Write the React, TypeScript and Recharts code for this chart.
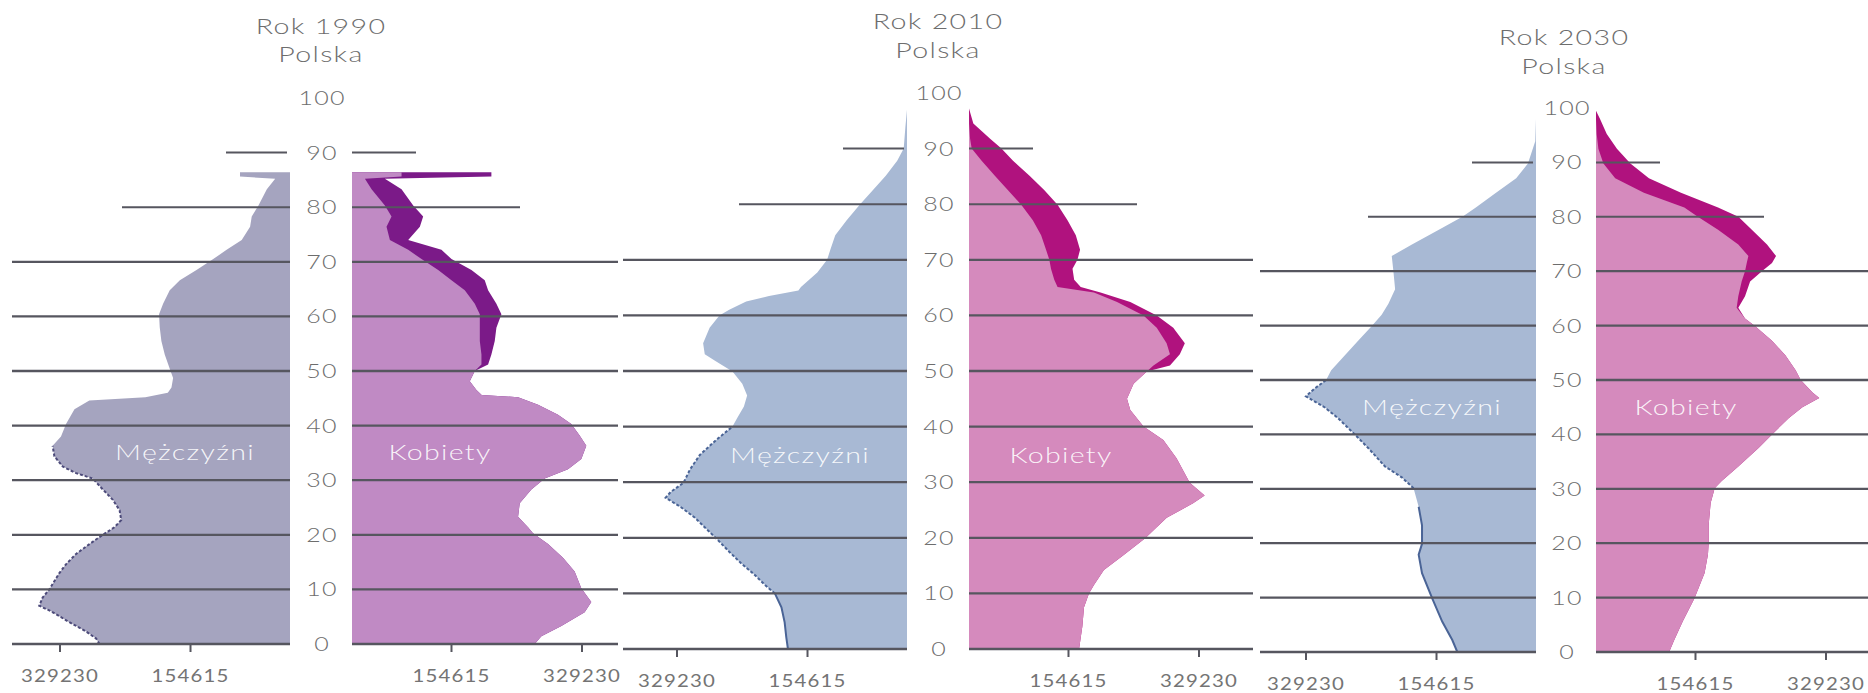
import { ComposedChart, Area, Line, XAxis, YAxis, ReferenceLine } from 'recharts';

const V0 = 21500; // value at the inner baseline of each half
const PER_PX = 1338; // axis units per pixel
const AGE_TICKS = [0, 10, 20, 30, 40, 50, 60, 70, 80, 90, 100];
const VALUE_TICKS = [154615, 329230];
const FULL_GRID = [0, 10, 20, 30, 40, 50, 60, 70];

// Rok 1990
const ages1990M = [0, 1, 2.3, 4, 6, 7, 8.5, 10, 11, 13, 14.6, 16.5, 18.3, 20, 21.4, 22.7, 24.5, 26.4, 28.3, 30.3, 31.3, 32.5, 34.4, 36.3, 38, 40.3, 43, 44.6, 45.2, 46, 47, 48.7, 50.4, 53, 55.5, 58, 60.4, 62.3, 64.8, 66.6, 68.5, 70.5, 72.2, 74, 76.4, 78.3, 80.3, 83.3, 85.2, 85.6, 86.4];
const male1990 = [276400, 280900, 294300, 316700, 341300, 357000, 352500, 343500, 339100, 330100, 321200, 307700, 289800, 271900, 256200, 247300, 249500, 258500, 271900, 285300, 307700, 325600, 336800, 339100, 327900, 321200, 309900, 290000, 215000, 185000, 180100, 177900, 182400, 189100, 193600, 195800, 196700, 191300, 182400, 168900, 146600, 124200, 106300, 86100, 74900, 72700, 63700, 52500, 41300, 88400, 88400];
const ages1990F = [0, 1.4, 3.3, 5.8, 7.7, 10.2, 13.3, 15.8, 18.3, 20.3, 21.4, 23.3, 25.8, 28.3, 30.3, 32, 33.9, 36.3, 38.2, 40.3, 42, 43.8, 45.2, 45.6, 46.5, 48.1, 50, 51.2, 53, 55.5, 57.9, 60.4, 62.3, 64.8, 66.6, 68.5, 70.5, 72.2, 74, 76.4, 78.3, 80.3, 83.3, 85.2, 85.6, 86.4];
const female1990 = [265900, 274900, 301600, 332800, 341700, 328300, 319400, 303800, 283800, 263700, 257000, 243700, 245900, 261500, 279300, 310500, 328300, 335000, 326100, 314900, 297100, 270400, 243700, 195000, 188000, 179100, 185800, 203600, 208000, 212500, 214700, 221400, 214700, 203600, 199100, 181300, 154600, 141200, 96700, 112300, 116700, 103400, 87800, 65500, 208000, 208000];
const femaleLight1990 = [265900, 274900, 301600, 332800, 341700, 328300, 319400, 303800, 283800, 263700, 257000, 243700, 245900, 261500, 279300, 310500, 328300, 335000, 326100, 314900, 297100, 270400, 243700, 195000, 188000, 179100, 185800, 194700, 194700, 192500, 192500, 192500, 185800, 172400, 154600, 136800, 114500, 96700, 72200, 67700, 74400, 65500, 47700, 38800, 87800, 87800];

// Rok 2010
const ages2010M = [0, 2.1, 4.8, 7.5, 10, 11.5, 13.5, 15.5, 17.5, 19.9, 21.6, 23.6, 25.6, 27.2, 28.2, 29.9, 32.3, 34.9, 37.6, 40, 41.6, 43.6, 45.6, 47.7, 49.9, 51.7, 53, 55, 57.8, 60, 61, 62.5, 63.5, 64.5, 65.1, 67.7, 70, 71.8, 74.4, 77.1, 79.9, 82.5, 85.1, 87.8, 90, 93.8, 97];
const male2010 = [180800, 183000, 185200, 189500, 198300, 211400, 226600, 244100, 259400, 276800, 289900, 305200, 324900, 344500, 338000, 320500, 311800, 298700, 276800, 255000, 248500, 239700, 235400, 241900, 255000, 276800, 292100, 294300, 285600, 272500, 259400, 236700, 206100, 166800, 163400, 141500, 128400, 124100, 117500, 102200, 84800, 67300, 49900, 34600, 25900, 23700, 21500];
const ages2010F = [0, 4.1, 7.5, 10, 11.5, 14.2, 16.9, 19.9, 23.6, 26.2, 27.6, 29.9, 34.3, 37.6, 40, 43, 45, 47.7, 49.9, 51, 53, 55, 57.8, 60, 62.4, 64.1, 65.1, 66.4, 68.4, 70, 71.8, 74.4, 77.1, 79.9, 82.5, 85.1, 87.8, 90, 91.8, 94.5, 97.2];
const female2010 = [168800, 173200, 175400, 182000, 188700, 202000, 228500, 257200, 286000, 321300, 336800, 316900, 299200, 281500, 255000, 237300, 232900, 241700, 259400, 290400, 303600, 310300, 294800, 272700, 237300, 197500, 171000, 162200, 160000, 166600, 170100, 164400, 153300, 140000, 122400, 102500, 80400, 64900, 49400, 27300, 21500];
const femaleLight2010 = [168800, 173200, 175400, 182000, 188700, 202000, 228500, 257200, 286000, 321300, 336800, 316900, 299200, 281500, 255000, 237300, 232900, 241700, 259400, 268300, 290400, 285900, 272700, 255000, 219600, 188700, 140000, 135600, 131200, 129000, 124600, 118000, 106900, 91400, 73700, 56100, 38400, 25100, 22900, 21600, 21500];

// Rok 2030
const ages2030M = [0, 2.2, 5.6, 9.9, 14.5, 17.9, 19.9, 23.3, 26.7, 30.1, 32.1, 34.1, 37.5, 40, 43, 45, 47, 48.4, 50, 51.8, 54.5, 57.2, 59.9, 62, 64, 66.7, 70, 72.8, 74.9, 77.6, 80, 81.7, 84.4, 87.1, 89.8, 93.9, 98];
const male2030 = [126800, 133500, 147000, 160500, 174000, 178500, 174000, 174000, 178500, 185300, 201000, 223500, 246000, 264000, 286500, 304500, 329300, 318000, 302300, 295500, 277500, 259500, 241500, 228000, 219000, 210000, 212300, 214500, 187500, 151500, 120000, 102000, 75000, 48000, 32300, 22500, 21500];
const ages2030F = [0, 2.2, 5.6, 9.9, 14.5, 17.9, 19.9, 23.3, 27.4, 30.1, 31.4, 34.1, 37.5, 40, 43, 45, 46.7, 47.7, 50, 51.8, 54.5, 57.2, 59.9, 61.3, 63.3, 65.4, 68.1, 70, 71.5, 72.8, 74.9, 77.6, 80, 81.7, 84.4, 87.1, 89.8, 92.5, 95.2, 98, 99.5];
const female2030 = [119400, 126200, 137500, 153300, 166800, 171300, 172200, 172200, 174900, 180300, 189300, 211900, 239000, 257000, 279600, 297600, 320200, 311200, 295400, 288600, 275100, 257000, 234500, 220900, 211900, 220900, 227700, 243500, 257000, 262400, 250300, 230000, 212000, 184800, 135200, 92300, 67500, 49500, 35900, 26900, 21500];
const femaleLight2030 = [119400, 126200, 137500, 153300, 166800, 171300, 172200, 172200, 174900, 180300, 189300, 211900, 239000, 257000, 279600, 297600, 320200, 311200, 295400, 288600, 275100, 257000, 234500, 220900, 209700, 211900, 216400, 220900, 223200, 225400, 211900, 184800, 157800, 139700, 85600, 47200, 31400, 24700, 22400, 21500, 21500];

const FONT = "Lato, 'Open Sans', sans-serif";
const TEXT = '#6d6d6d';
const GRID = '#56565f';
const PAD_TOP = 14;
const AXIS_H = 48;
const RIGHT_PAD = 16; // room for the outer tick label of the female half

const PURPLE = { male: '#a5a4bf', maleEdge: '#4d4b7a', female: '#c08ac4', femaleDark: '#7b1a88' };
const PINK = { male: '#a8b9d4', maleEdge: '#4a6496', female: '#d58abd', femaleDark: '#b0127e' };

const panels = [
  {
    title: 'Rok 1990', titleY: 26, subY: 54, center: 321, y100: 98, y0: 644,
    mLeft: 12, mRight: 290, fLeft: 352, fRight: 618, labelY: 452, mLabelX: 185, fLabelX: 440,
    colors: PURPLE, agesM: ages1990M, male: male1990, agesF: ages1990F, female: female1990, femaleLight: femaleLight1990,
    solidTo: -1, dashTo: 36.5,
  },
  {
    title: 'Rok 2010', titleY: 21, subY: 50, center: 938, y100: 93, y0: 649,
    mLeft: 623, mRight: 907, fLeft: 969, fRight: 1253, labelY: 455, mLabelX: 800, fLabelX: 1061,
    colors: PINK, agesM: ages2010M, male: male2010, agesF: ages2010F, female: female2010, femaleLight: femaleLight2010,
    solidTo: 10, dashTo: 40,
  },
  {
    title: 'Rok 2030', titleY: 37, subY: 66, center: 1564, y100: 108, y0: 652,
    mLeft: 1260, mRight: 1536, fLeft: 1596, fRight: 1868, labelY: 407, mLabelX: 1432, fLabelX: 1686,
    colors: PINK, agesM: ages2030M, male: male2030, agesF: ages2030F, female: female2030, femaleLight: femaleLight2030,
    solidTo: 30, dashTo: 50,
  },
];

const gridLines = (d90End: number) => [
  ...FULL_GRID.map((a) => (
    <ReferenceLine key={a} y={a} stroke={GRID} strokeWidth={2.3} ifOverflow="visible" />
  )),
  <ReferenceLine key="g80" segment={[{ x: V0, y: 80 }, { x: V0 + 168 * PER_PX, y: 80 }]} stroke={GRID} strokeWidth={2} />,
  <ReferenceLine key="g90" segment={[{ x: V0 + d90End * PER_PX, y: 90 }, { x: V0 + 64 * PER_PX, y: 90 }]} stroke={GRID} strokeWidth={2} />,
];

// the source lettering is wide, so the glyphs are stretched sideways
const AgeTick = ({ y, payload, gap }: any) => (
  <text transform={`translate(${gap / 2 + 1},${y + 7}) scale(1.25,1)`} textAnchor="middle" fill={TEXT}
    fontSize={20} fontFamily={FONT} fontWeight={300} letterSpacing={1}>
    {payload.value}
  </text>
);

const ValueTick = ({ x, y, payload }: any) => (
  <text transform={`translate(${x},${y + 15}) scale(1.2,1)`} textAnchor="middle" fill="#747474"
    fontSize={17} fontFamily={FONT} letterSpacing={1}>
    {payload.value}
  </text>
);

function MaleHalf({ p }: any) {
  const w = p.mRight - p.mLeft;
  const plotH = p.y0 - p.y100;
  const rows = p.agesM.map((age: number, i: number) => ({ age, v: p.male[i] }));
  const solid = rows.filter((r: any) => r.age <= p.solidTo);
  const dashed = rows.filter((r: any) => r.age >= Math.max(p.solidTo, 0) && r.age <= p.dashTo);
  return (
    <div style={{ position: 'absolute', left: p.mLeft, top: p.y100 - PAD_TOP }}>
      <ComposedChart layout="vertical" width={w} height={PAD_TOP + plotH + AXIS_H} margin={{ top: PAD_TOP, right: 0, bottom: 0, left: 0 }}>
        <XAxis type="number" domain={[V0, V0 + w * PER_PX]} allowDataOverflow reversed ticks={VALUE_TICKS} interval={0}
          height={AXIS_H} axisLine={false} tickLine={{ stroke: GRID, strokeWidth: 2 }} tickSize={8} tickMargin={15}
          tick={<ValueTick />} />
        <YAxis type="number" dataKey="age" domain={[0, 100]} allowDataOverflow reversed hide />
        <Area data={rows} dataKey="v" type="linear" fill={p.colors.male} fillOpacity={1} stroke="none" isAnimationActive={false} />
        {solid.length > 1 && (
          <Line data={solid} dataKey="v" type="linear" stroke={p.colors.maleEdge} strokeWidth={2} dot={false} isAnimationActive={false} />
        )}
        <Line data={dashed} dataKey="v" type="linear" stroke={p.colors.maleEdge} strokeWidth={2} strokeDasharray="3 2" dot={false} isAnimationActive={false} />
        {gridLines(3)}
      </ComposedChart>
    </div>
  );
}

function FemaleHalf({ p }: any) {
  const w = p.fRight - p.fLeft;
  const gap = p.fLeft - p.mRight;
  const plotH = p.y0 - p.y100;
  const rows = p.agesF.map((age: number, i: number) => ({ age, f: p.female[i], fl: p.femaleLight[i] }));
  return (
    <div style={{ position: 'absolute', left: p.fLeft - gap, top: p.y100 - PAD_TOP }}>
      <ComposedChart layout="vertical" width={gap + w + RIGHT_PAD} height={PAD_TOP + plotH + AXIS_H} margin={{ top: PAD_TOP, right: RIGHT_PAD, bottom: 0, left: 0 }}>
        <XAxis type="number" domain={[V0, V0 + w * PER_PX]} allowDataOverflow ticks={VALUE_TICKS} interval={0}
          height={AXIS_H} axisLine={false} tickLine={{ stroke: GRID, strokeWidth: 2 }} tickSize={8} tickMargin={15}
          tick={<ValueTick />} />
        <YAxis type="number" dataKey="age" domain={[0, 100]} allowDataOverflow reversed width={gap} ticks={AGE_TICKS} interval={0}
          axisLine={false} tickLine={false} tickSize={0} tickMargin={0} tick={<AgeTick gap={gap} />} />
        <Area data={rows} dataKey="f" type="linear" fill={p.colors.femaleDark} fillOpacity={1} stroke="none" isAnimationActive={false} />
        <Area data={rows} dataKey="fl" type="linear" fill={p.colors.female} fillOpacity={1} stroke="none" isAnimationActive={false} />
        {gridLines(0)}
      </ComposedChart>
    </div>
  );
}

const textBase = { position: 'absolute' as const, width: 240, textAlign: 'center' as const, fontFamily: FONT, whiteSpace: 'nowrap' as const, transformOrigin: 'center' };
const titleStyle = { ...textBase, fontSize: 22, lineHeight: '26px', color: TEXT, fontWeight: 300, letterSpacing: 1, transform: 'scaleX(1.3)' };
const sexStyle = { ...textBase, fontSize: 22, lineHeight: '30px', color: 'rgba(255,255,255,0.9)', fontWeight: 300, letterSpacing: 1, transform: 'scaleX(1.3)' };

export default function App() {
  return (
    <div style={{ position: 'absolute', left: 0, top: 0, width: 1868, height: 693, background: '#fff', overflow: 'hidden' }}>
      {panels.map((p) => (
        <div key={p.title}>
          <MaleHalf p={p} />
          <FemaleHalf p={p} />
          <div style={{ ...titleStyle, left: p.center - 120, top: p.titleY - 13 }}>{p.title}</div>
          <div style={{ ...titleStyle, left: p.center - 120, top: p.subY - 13 }}>Polska</div>
          <div style={{ ...sexStyle, left: p.mLabelX - 120, top: p.labelY - 15 }}>Mężczyźni</div>
          <div style={{ ...sexStyle, left: p.fLabelX - 120, top: p.labelY - 15 }}>Kobiety</div>
        </div>
      ))}
    </div>
  );
}
